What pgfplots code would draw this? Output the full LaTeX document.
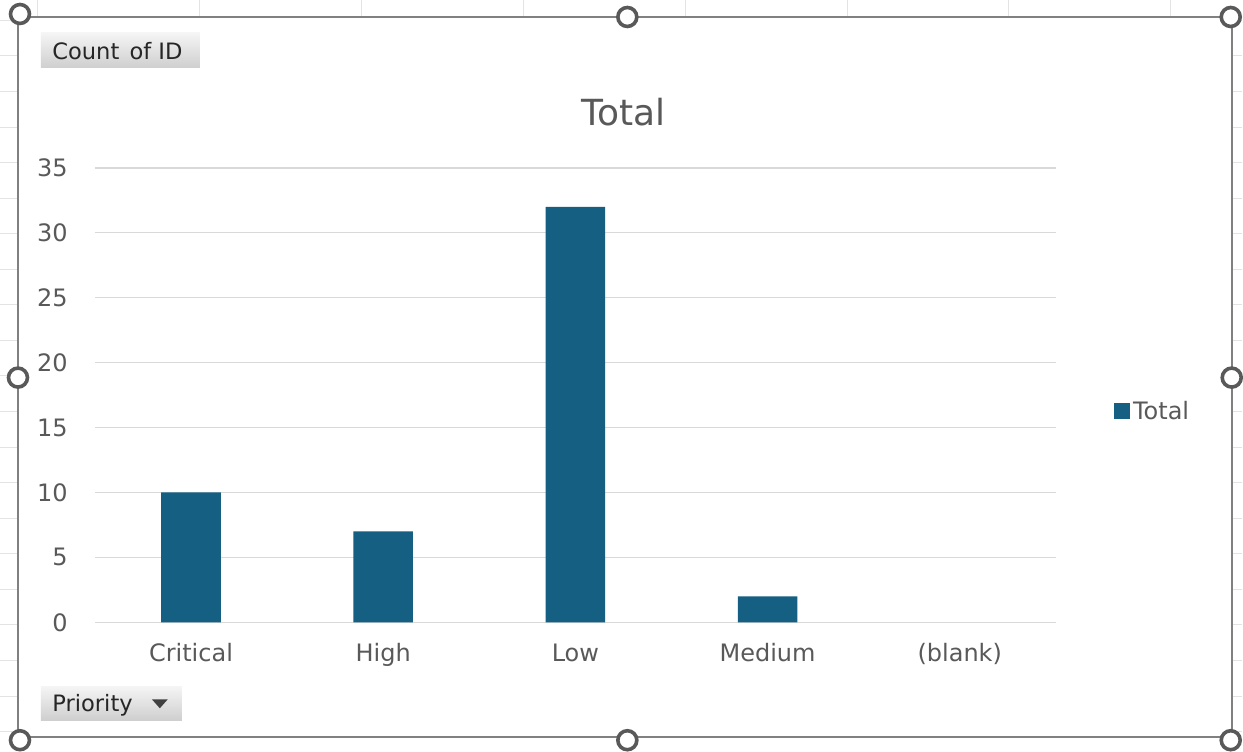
\documentclass[border=0pt]{standalone}
\usepackage{fontspec}
\setmainfont{DejaVu Sans}
\usepackage{pgfplots}
\pgfplotsset{compat=1.18}
\definecolor{barblue}{HTML}{156082}
\definecolor{txtgray}{HTML}{595959}
\definecolor{gridgray}{HTML}{D9D9D9}
\definecolor{framegray}{HTML}{808080}
\definecolor{handlegray}{HTML}{595959}
\definecolor{cellgray}{HTML}{E3E3E3}
\begin{document}
\begin{tikzpicture}
\begin{scope}[x=0.5pt,y=-0.5pt]
\useasboundingbox (0,0) rectangle (1243,742);
\fill[white] (0,0) rectangle (1243,742);
% faint worksheet cell lines outside the chart frame
\foreach \xx in {38,200,362,524,686,848,1010,1172}
  \draw[cellgray, line width=0.5pt] (\xx,0) -- (\xx,16);
\foreach \yy in {20.4,56,91.6,127.2,162.8,198.4,234,269.6,305.2,340.8,376.4,412,447.6,483.2,518.8,554.4,590,625.6,661.2,696.8,732.4}
  {\draw[cellgray, line width=0.5pt] (0,\yy) -- (17,\yy);
   \draw[cellgray, line width=0.5pt] (1234,\yy) -- (1243,\yy);}
% chart frame
\draw[framegray, line width=1.1pt] (18,17) rectangle (1233,738);
% title
\node[text=txtgray, font=\fontsize{18}{21}\selectfont] at (624,112) {Total};
% field buttons
\shade[top color=gray!8, bottom color=gray!38] (41,33) rectangle (200,68);
\node[anchor=west, inner sep=0pt, text=black!85, font=\fontsize{11.3}{13}\selectfont] at (52,51) {Count\hspace{0.45em}of ID};
\shade[top color=gray!8, bottom color=gray!38] (41,687) rectangle (182,721);
\node[anchor=west, inner sep=0pt, text=black!85, font=\fontsize{11.3}{13}\selectfont] at (52,706) {Priority};
\fill[black!75] (152,700) -- (168,700) -- (160,709) -- cycle;
\end{scope}
\begin{axis}[
  at={(47.5pt,-311.5pt)}, anchor=south west,
  scale only axis, width=481pt, height=227.5pt,
  xmin=-0.5, xmax=4.5, ymin=0, ymax=35,
  xtick={0,1,2,3,4},
  xticklabels={Critical,High,Low,Medium,(blank)},
  ytick={0,5,...,35},
  ymajorgrids, grid style={gridgray, line width=0.7pt},
  axis line style={draw=none},
  major tick length=0pt, tick style={draw=none},
  /pgf/number format/assume math mode=true,
  ticklabel style={font=\fontsize{12}{14}\selectfont, text=txtgray},
  yticklabel style={anchor=east, inner sep=0pt, xshift=-13.5pt},
  xticklabel style={anchor=base, inner sep=0pt, yshift=-19.5pt},
  legend style={at={(1.060,0.464)}, anchor=west, draw=none, fill=none,
    inner sep=0pt, font=\fontsize{12}{14}\selectfont, text=txtgray,
    nodes={inner sep=1.6pt}},
  legend image code/.code={\fill[barblue] (-5pt,-4pt) rectangle (3pt,4pt);},
]
\addplot[ybar, fill=barblue, draw=none, bar width=0.31]
  coordinates {(0,10) (1,7) (2,32) (3,2)};
\addlegendentry{Total}
\end{axis}
\begin{scope}[x=0.5pt,y=-0.5pt]
% selection handles
\foreach \p in {(20,14),(628,17),(1232,17),(18,378),(1233,378),(20,741),(628,741),(1232,741)}
  \filldraw[fill=white, draw=handlegray, line width=1.8pt] \p circle (9.5);
\end{scope}
\end{tikzpicture}
\end{document}
